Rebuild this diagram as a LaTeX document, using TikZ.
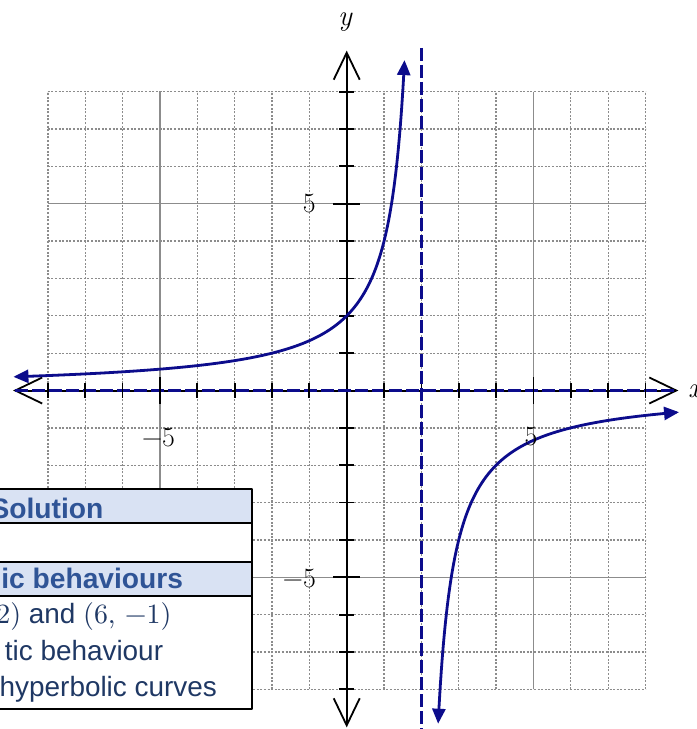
\documentclass[tikz,border=0pt]{standalone}
\usepackage{fontspec}
\newfontfamily\arialfont{Liberation Sans}
\newfontfamily\lmten{lmroman10-regular.otf}
\usetikzlibrary{arrows.meta}
\definecolor{navy}{RGB}{12,12,140}
\definecolor{hdrbg}{RGB}{217,226,243}
\definecolor{hdrtxt}{RGB}{47,84,150}
\definecolor{bodytxt}{RGB}{31,56,100}
\definecolor{gridgray}{RGB}{140,140,140}
\tikzset{
  gridline/.style={gridgray, line width=1.3bp, dash pattern=on 2bp off 1.6bp},
  majorline/.style={gridgray, line width=1.5bp},
  axisline/.style={black, line width=2bp, {Straight Barb[length=27bp,width=26bp,line width=1.8bp]}-{Straight Barb[length=27bp,width=26bp,line width=1.8bp]}},
  tickmark/.style={black, line width=1.8bp},
  asym/.style={navy, line width=2.6bp, dash pattern=on 13bp off 4bp},
  curve/.style={navy, line width=2.8bp, {Triangle[length=15bp,width=13bp]}-{Triangle[length=15bp,width=13bp]}},
  ticklabel/.style={inner sep=0pt, font=\rmfamily\fontsize{28}{30}\selectfont},
  axislabel/.style={inner sep=0pt, font=\rmfamily\itshape\fontsize{29}{30}\selectfont},
  hdr/.style={inner sep=0pt, text=hdrtxt, font=\arialfont\bfseries\fontsize{28.3}{30}\selectfont},
  bodyt/.style={inner sep=0pt, text=bodytxt, font=\arialfont\fontsize{28}{30}\selectfont},
}
\newcommand{\mth}[1]{{\lmten #1}}
\begin{document}
\begin{tikzpicture}[x=1bp,y=1bp,line join=round]
\useasboundingbox (0,0) rectangle (697,-729);
\fill[white] (0,0) rectangle (697,-729);
\begin{scope}[shift={(346.7,-390.5)}, x=37.35bp, y=37.35bp]
  % grid
  \foreach \i in {-8,...,8} {
    \draw[gridline] (\i,-8) -- (\i,8);
    \draw[gridline] (-8,\i) -- (8,\i);
  }
  \foreach \i in {-5,5} {
    \draw[majorline] (\i,-8) -- (\i,8);
    \draw[majorline] (-8,\i) -- (8,\i);
  }
  % axes
  \coordinate (xl) at (-8.93,0);
  \coordinate (xr) at (8.88,0);
  \coordinate (yb) at (0,-9.02);
  \coordinate (yt) at (0,9.1);
  \draw[axisline] (xl) -- (xr);
  \draw[axisline] (yb) -- (yt);
  % horizontal asymptote y = 0
  \draw[asym] (-8.88,0) -- (8.83,0);
  % ticks
  \foreach \i in {-8,...,-1,1,2,3,4,6,7,8} {
    \draw[tickmark] (\i,-0.2) -- (\i,0.2);
    \draw[tickmark] (-0.2,\i) -- (0.2,\i);
  }
  \foreach \i in {-5,5} {
    \draw[tickmark] (\i,-0.36) -- (\i,0.36);
    \draw[tickmark] (-0.36,\i) -- (0.36,\i);
  }
  % vertical asymptote x = 2
  \coordinate (vat) at (2,9.17);
  \coordinate (vab) at (2,-9.3);
  \draw[asym] (vat) -- (vab);
  % hyperbola y = -4/(x-2)
  \draw[curve] plot[domain=2.18:-1.005, samples=220, variable=\t] ({2-4*exp(-\t)}, {exp(\t)});
  \draw[curve] plot[domain=-0.545:2.19, samples=220, variable=\t] ({2+4*exp(-\t)}, {-exp(\t)});
\end{scope}
% axis labels
\node[axislabel] (ylab) at (345,-22) {y};
\node[axislabel, anchor=west] (xlab) at (688,-391) {x};
% tick labels
\node[ticklabel] (ly5) at (309.3,-203.3) {5};
\node[ticklabel, anchor=east] (lym5) at (316,-578.5) {−5};
\node[ticklabel] (lxm5) at (158.5,-438) {−5};
\node[ticklabel] (lx5) at (531,-437) {5};
% table
\fill[hdrbg] (-5,-489) rectangle (252,-523);
\fill[white] (-5,-523) rectangle (252,-562);
\fill[hdrbg] (-5,-562) rectangle (252,-596);
\fill[white] (-5,-596) rectangle (252,-709);
\draw[line width=2.2bp] (-5,-489) -- (252,-489) -- (252,-709) -- (-5,-709);
\draw[line width=2.2bp] (-5,-523) -- (252,-523);
\draw[line width=2.2bp] (-5,-562) -- (252,-562);
\draw[line width=2.2bp] (-5,-596) -- (252,-596);
\node[hdr, anchor=base east] (sol) at (103.5,-518) {Solution};
\node[hdr, anchor=base east] (beh) at (183.3,-588.5) {ic behaviours};
\node[bodyt, anchor=base east] (l1) at (171.7,-623.3) {\mth{2)} and \mth{(6, −1)}};
\node[bodyt, anchor=base east] (l2) at (163.3,-660) {tic behaviour};
\node[bodyt, anchor=base east] (l3) at (217,-696.7) {hyperbolic curves};
\end{tikzpicture}
\end{document}
